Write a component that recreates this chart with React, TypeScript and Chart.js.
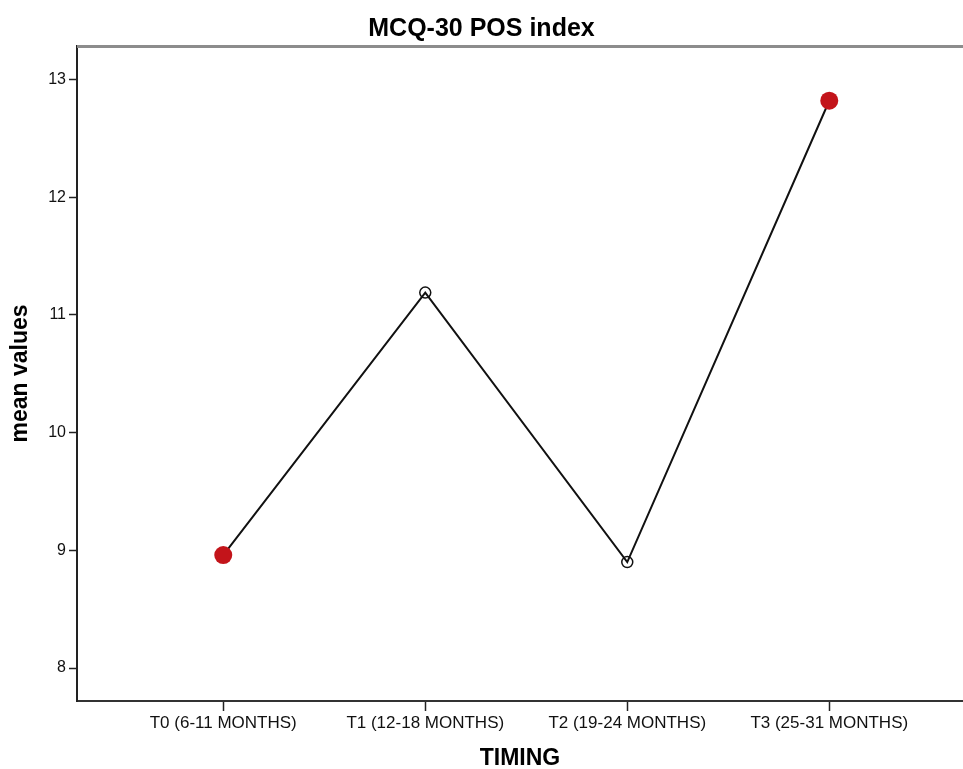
import React, { useEffect, useRef } from "react";
import { Chart, registerables } from "chart.js";

Chart.register(...registerables);

const categories = [
  "T0 (6-11 MONTHS)",
  "T1 (12-18 MONTHS)",
  "T2 (19-24 MONTHS)",
  "T3 (25-31 MONTHS)",
];
const meanValues = [8.96, 11.19, 8.9, 12.82];
const yTicks = [8, 9, 10, 11, 12, 13];
const chartTitle = "MCQ-30 POS index";
const xTitle = "TIMING";
const yTitle = "mean values";

const FONT = "'Liberation Sans', Arial, sans-serif";
const RED = "#c3141a";

const topBorder = {
  id: "topBorder",
  afterDraw(chart: any) {
    const { ctx, chartArea } = chart;
    ctx.save();
    ctx.strokeStyle = "#8c8c8c";
    ctx.lineWidth = 3;
    ctx.beginPath();
    ctx.moveTo(chartArea.left, chartArea.top + 0.5);
    ctx.lineTo(chartArea.right, chartArea.top + 0.5);
    ctx.stroke();
    ctx.restore();
  },
};

export default function App() {
  const ref = useRef<HTMLCanvasElement | null>(null);

  useEffect(() => {
    if (!ref.current) return;
    const isMarked = (i: number) => i === 0 || i === categories.length - 1;
    const chart = new Chart(ref.current, {
      type: "line",
      data: {
        datasets: [
          {
            data: categories.map((_, i) => ({ x: i, y: meanValues[i] })),
            borderColor: "#111",
            borderWidth: 2,
            tension: 0,
            clip: false,
            pointRadius: (c: any) => (isMarked(c.dataIndex) ? 9 : 5.5),
            pointBackgroundColor: (c: any) => (isMarked(c.dataIndex) ? RED : "rgba(255,255,255,0)"),
            pointBorderColor: (c: any) => (isMarked(c.dataIndex) ? RED : "#111"),
            pointBorderWidth: (c: any) => (isMarked(c.dataIndex) ? 0 : 1.5),
          },
        ],
      },
      options: {
        responsive: false,
        animation: false,
        layout: { autoPadding: false, padding: { left: 0, right: 0, top: 0, bottom: 0 } },
        plugins: {
          legend: { display: false },
          tooltip: { enabled: false },
          title: {
            display: true,
            text: chartTitle,
            color: "#000",
            font: { family: FONT, size: 25, weight: "bold", lineHeight: 1.2 },
            padding: { top: 14, bottom: 2 },
          },
        },
        scales: {
          x: {
            type: "linear",
            min: -0.724,
            max: 3.662,
            afterBuildTicks: (s: any) => {
              s.ticks = categories.map((_, i) => ({ value: i }));
            },
            afterFit: (s: any) => {
              s.height = 68;
              s.paddingLeft = 0;
              s.paddingRight = 0;
            },
            ticks: {
              callback: (v: any) => categories[v] ?? "",
              color: "#111",
              font: { family: FONT, size: 17 },
              padding: 2,
              maxRotation: 0,
              autoSkip: false,
            },
            grid: {
              drawOnChartArea: false,
              drawTicks: true,
              tickLength: 10,
              color: "#222",
              tickWidth: 1.5,
            },
            border: { display: true, color: "#333", width: 2 },
            title: {
              display: true,
              text: xTitle,
              color: "#000",
              font: { family: FONT, size: 23, weight: "bold", lineHeight: 0.9 },
              padding: { top: 0, bottom: 0 },
            },
          },
          y: {
            type: "linear",
            min: 7.72,
            max: 13.285,
            afterBuildTicks: (s: any) => {
              s.ticks = yTicks.map((v) => ({ value: v }));
            },
            afterFit: (s: any) => {
              s.width = 77;
              s.paddingTop = 0;
              s.paddingBottom = 0;
            },
            ticks: {
              color: "#111",
              font: { family: FONT, size: 16 },
              padding: 3,
            },
            grid: {
              drawOnChartArea: false,
              drawTicks: true,
              tickLength: 8,
              color: "#222",
              tickWidth: 1.5,
            },
            border: { display: true, color: "#222", width: 2 },
            title: {
              display: true,
              text: yTitle,
              color: "#000",
              font: { family: FONT, size: 23, weight: "bold", lineHeight: 1.2 },
              padding: { top: 7, bottom: 0 },
            },
          },
        },
      },
      plugins: [topBorder],
    } as any);
    return () => chart.destroy();
  }, []);

  return (
    <div style={{ position: "fixed", left: 0, top: 0, width: 963, height: 769, background: "#fff" }}>
      <canvas ref={ref} width={963} height={769} style={{ display: "block" }} />
    </div>
  );
}
